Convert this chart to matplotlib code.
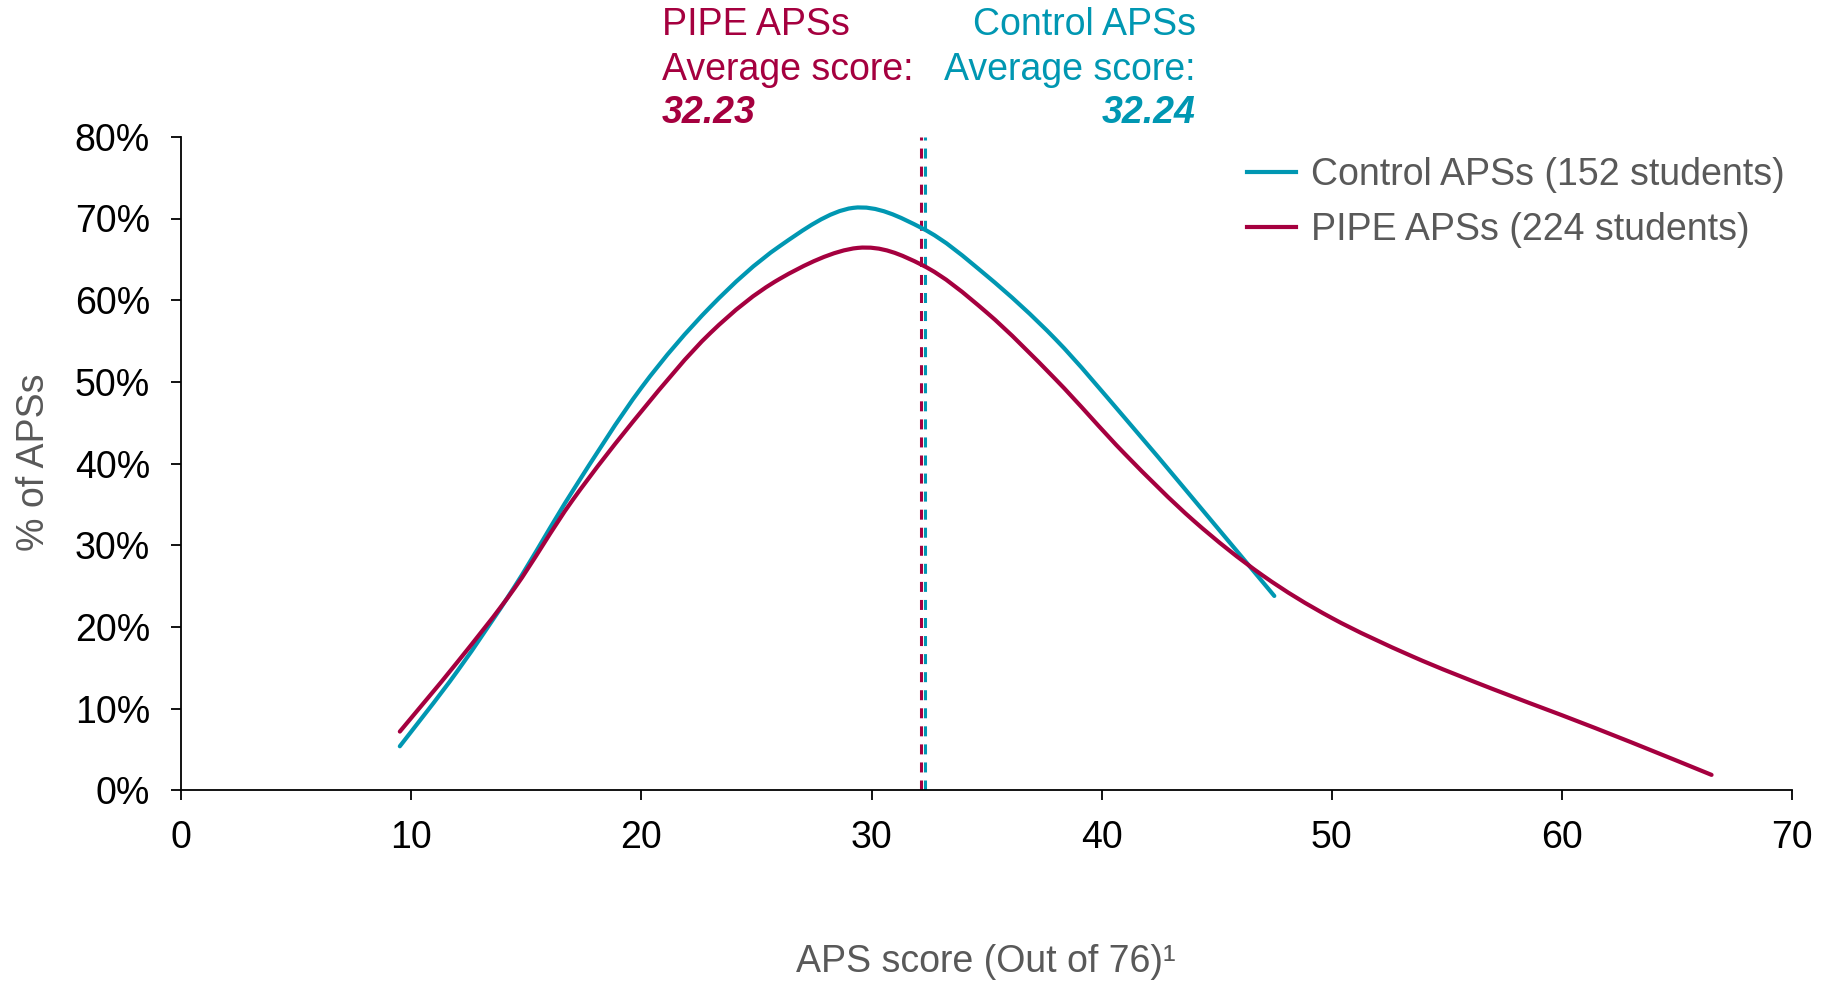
import matplotlib
matplotlib.use("Agg")
import matplotlib.pyplot as plt
import matplotlib.transforms as mtransforms
from matplotlib.path import Path
from matplotlib.patches import PathPatch
from matplotlib.lines import Line2D
from matplotlib.ticker import MultipleLocator, FuncFormatter

plt.rcParams['font.family'] = ['Liberation Sans', 'DejaVu Sans']
plt.rcParams['lines.scale_dashes'] = False

TEAL = '#0097B2'
CRIMSON = '#A5003F'
GREY = '#595959'

# share of APSs (%) by APS score
control_x = [9.5, 12.0, 14.5, 17.0, 20.0, 23.0, 26.0, 29.2, 32.2, 35.0, 38.0, 41.0, 44.0, 47.5]
control_y = [5.4, 14.6, 25.0, 36.6, 49.3, 59.2, 66.6, 71.3, 68.8, 63.0, 55.2, 45.6, 35.6, 23.8]

pipe_x = [9.5, 12.0, 14.5, 17.0, 20.0, 23.0, 26.0, 29.4, 32.2, 35.0, 38.0, 41.0, 44.0,
          47.0, 50.0, 53.5, 57.0, 60.0, 63.0, 66.5]
pipe_y = [7.2, 15.7, 24.8, 35.5, 46.4, 56.0, 62.6, 66.4, 64.3, 58.5, 50.3, 41.2, 33.0,
          26.3, 21.1, 16.4, 12.4, 9.2, 5.9, 1.9]

control_label = 'Control APSs (152 students)'
pipe_label = 'PIPE APSs (224 students)'
control_avg = 32.24
pipe_avg = 32.23


def smooth_path(xs, ys):
    # smoothed line through the points (Catmull-Rom segments as cubic Beziers)
    pts = list(zip(xs, ys))
    verts = [pts[0]]
    codes = [Path.MOVETO]
    n = len(pts)
    for i in range(n - 1):
        p0 = pts[i - 1] if i > 0 else pts[i]
        p1 = pts[i]
        p2 = pts[i + 1]
        p3 = pts[i + 2] if i + 2 < n else pts[i + 1]
        c1 = (p1[0] + (p2[0] - p0[0]) / 6, p1[1] + (p2[1] - p0[1]) / 6)
        c2 = (p2[0] - (p3[0] - p1[0]) / 6, p2[1] - (p3[1] - p1[1]) / 6)
        verts += [c1, c2, p2]
        codes += [Path.CURVE4] * 3
    return Path(verts, codes)


W, H = 1833, 981
FS = 27
fig = plt.figure(figsize=(W / 100, H / 100), dpi=100)
ax = fig.add_axes([181.2 / W, 1 - 790.4 / H, (1792.1 - 181.2) / W, (790.4 - 136.8) / H])

for xs, ys, c in [(control_x, control_y, TEAL), (pipe_x, pipe_y, CRIMSON)]:
    ax.add_patch(PathPatch(smooth_path(xs, ys), fill=False, edgecolor=c, lw=3,
                           capstyle='round', zorder=3))

# average markers, nudged apart a couple of pixels so both stay visible
left_tr = mtransforms.offset_copy(ax.get_xaxis_transform(), fig=fig, x=-2.2, y=0, units='dots')
right_tr = mtransforms.offset_copy(ax.get_xaxis_transform(), fig=fig, x=2.2, y=0, units='dots')
ax.plot([pipe_avg, pipe_avg], [0, 1], transform=left_tr, color=CRIMSON, lw=2.2,
        dashes=(7.2, 5.8), zorder=2)
ax.plot([control_avg, control_avg], [0, 1], transform=right_tr, color=TEAL, lw=2.2,
        dashes=(7.2, 5.8), zorder=2)

ax.set_xlim(0, 70)
ax.set_ylim(0, 80)
ax.xaxis.set_major_locator(MultipleLocator(10))
ax.yaxis.set_major_locator(MultipleLocator(10))
ax.yaxis.set_major_formatter(FuncFormatter(lambda v, p: '%d%%' % v))

for s in ['top', 'right']:
    ax.spines[s].set_visible(False)
for s in ['left', 'bottom']:
    ax.spines[s].set_linewidth(1.3)
    ax.spines[s].set_color('black')
ax.tick_params(direction='out', length=7, width=1.3, labelsize=FS, pad=14, colors='black')
ax.tick_params(axis='y', pad=15.5)

ax.set_xlabel('APS score (Out of 76)\u00b9', fontsize=FS, color=GREY, va='center')
ax.xaxis.set_label_coords((986 - 181.2) / (1792.1 - 181.2), -(962 - 790.4) / (790.4 - 136.8))
ax.set_ylabel('% of APSs', fontsize=FS, color=GREY, va='center')
ax.yaxis.set_label_coords(-(181.2 - 34) / (1792.1 - 181.2), (790.4 - 462) / (790.4 - 136.8))

handles = [Line2D([], [], color=TEAL, lw=3), Line2D([], [], color=CRIMSON, lw=3)]
leg = ax.legend(handles, [control_label, pipe_label], loc='upper left',
                bbox_to_anchor=(1247 / W, 1 - 157 / H), bbox_transform=fig.transFigure,
                frameon=False, fontsize=FS, handlelength=1.3, handletextpad=0.4,
                labelspacing=0.52, borderpad=0, borderaxespad=0)
for t in leg.get_texts():
    t.set_color(GREY)

# average score call-outs above the plot
fig.text(662 / W, 1 - 25 / H, 'PIPE APSs', color=CRIMSON, fontsize=FS, ha='left', va='center')
fig.text(662 / W, 1 - 70 / H, 'Average score:', color=CRIMSON, fontsize=FS, ha='left', va='center')
fig.text(662 / W, 1 - 113 / H, '%.2f' % pipe_avg, color=CRIMSON, fontsize=FS,
         fontweight='bold', fontstyle='italic', ha='left', va='center')
fig.text(1196 / W, 1 - 25 / H, 'Control APSs', color=TEAL, fontsize=FS, ha='right', va='center')
fig.text(1196 / W, 1 - 70 / H, 'Average score:', color=TEAL, fontsize=FS, ha='right', va='center')
fig.text(1196 / W, 1 - 113 / H, '%.2f' % control_avg, color=TEAL, fontsize=FS,
         fontweight='bold', fontstyle='italic', ha='right', va='center')

fig.savefig('out.png', dpi=100)
